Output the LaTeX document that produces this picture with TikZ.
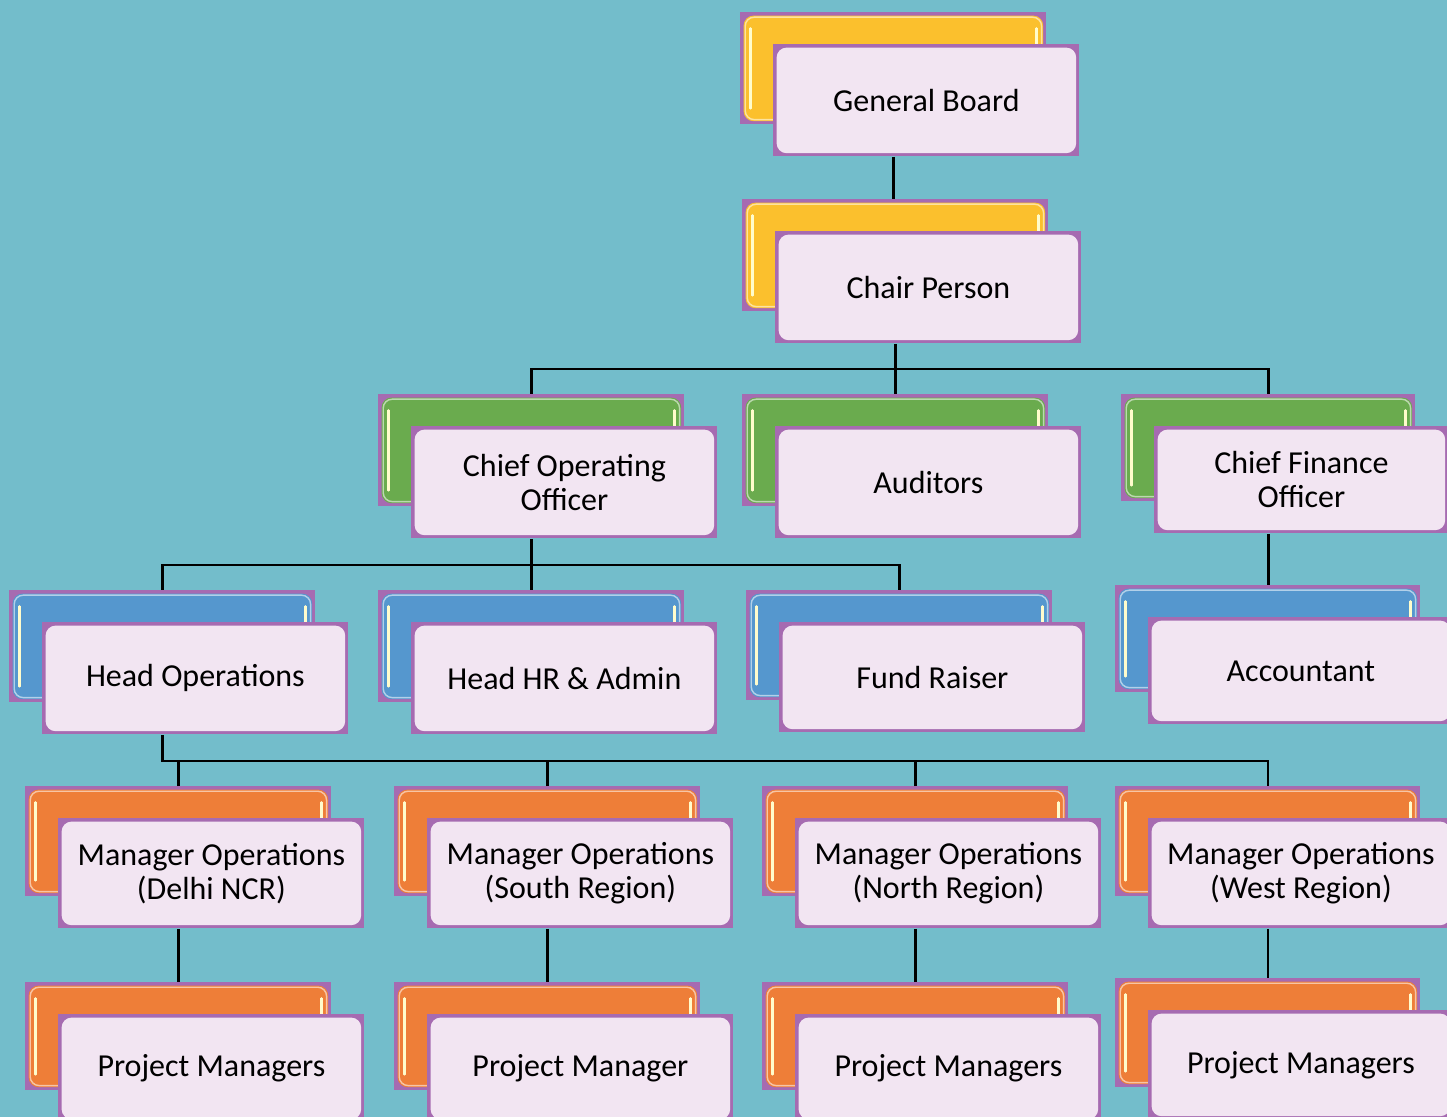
\documentclass[tikz,border=0pt]{standalone}
\usepackage{fontspec}
\setmainfont{Carlito}
\usetikzlibrary{calc}
\definecolor{bgc}{HTML}{73BDCB}
\definecolor{rim}{HTML}{A66BB1}
\definecolor{pinkf}{HTML}{F2E5F2}
\definecolor{yel}{HTML}{FBC02D}
\definecolor{grn}{HTML}{6AAB4E}
\definecolor{blu}{HTML}{5597CE}
\definecolor{org}{HTML}{EE7E38}
\tikzset{
  backtab/.style={rectangle, inner sep=0pt, fill=rim, draw=none,
    path picture={
      \fill[#1, rounded corners=5pt] ([shift={(1.6pt,-1.6pt)}]path picture bounding box.north west) rectangle ([shift={(-1.6pt,1.6pt)}]path picture bounding box.south east);
      \draw[#1!45!white, line width=0.7pt, rounded corners=4.5pt] ([shift={(2.4pt,-2.4pt)}]path picture bounding box.north west) rectangle ([shift={(-2.4pt,2.4pt)}]path picture bounding box.south east);
      \draw[white!80!yellow, line width=1.2pt, line cap=round] ([shift={(5pt,-8pt)}]path picture bounding box.north west) -- ([shift={(5pt,8pt)}]path picture bounding box.south west);
      \draw[white!80!yellow, line width=1.2pt, line cap=round] ([shift={(-5pt,-8pt)}]path picture bounding box.north east) -- ([shift={(-5pt,8pt)}]path picture bounding box.south east);
    }},
  frontbox/.style={rectangle, inner sep=0pt, fill=rim, draw=none,
    path picture={
      \fill[pinkf, rounded corners=5pt] ([shift={(1.6pt,-1.6pt)}]path picture bounding box.north west) rectangle ([shift={(-1.6pt,1.6pt)}]path picture bounding box.south east);
    }},
  boxtext/.style={font=\fontsize{16}{17}\selectfont, align=center, inner sep=0pt},
  conn/.style={draw=black, line width=1.25pt}
}
% name, x, y, w, h, colour, text
\newcommand\obox[7]{%
  \node[backtab=#6, anchor=north west, minimum width={#4*0.5pt}, minimum height={#5*0.5pt}] (#1-b) at (#2,#3) {};
  \node[frontbox, anchor=north west, minimum width={#4*0.5pt}, minimum height={#5*0.5pt}] (#1f) at ({#2+33},{#3+32}) {};
  \node[boxtext] (#1) at (#1f.center) {#7};
}
\begin{document}
\begin{tikzpicture}[x=0.5pt,y=-0.5pt]
\useasboundingbox (0,0) rectangle (1447,1117);
\clip (0,0) rectangle (1447,1117);
\fill[bgc] (0,0) rectangle (1447,1117);

\obox{gb}{740}{12}{306}{112}{yel}{General Board}
\obox{cp}{742}{199}{306}{112}{yel}{Chair Person}
\obox{coo}{378}{394}{306}{112}{grn}{Chief Operating\\Officer}
\obox{aud}{742}{394}{306}{112}{grn}{Auditors}
\obox{cfo}{1121}{394}{294}{107}{grn}{Chief Finance\\Officer}
\obox{ho}{9}{590}{306}{112}{blu}{Head Operations}
\obox{hr}{378}{590}{306}{112}{blu}{Head HR \& Admin}
\obox{fr}{746}{590}{306}{110}{blu}{Fund Raiser}
\obox{acc}{1115}{585}{305}{107}{blu}{Accountant}
\obox{md}{25}{786}{306}{110}{org}{Manager Operations\\(Delhi NCR)}
\obox{ms}{394}{786}{306}{110}{org}{Manager Operations\\(South Region)}
\obox{mn}{762}{786}{306}{110}{org}{Manager Operations\\(North Region)}
\obox{mw}{1115}{786}{305}{110}{org}{Manager Operations\\(West Region)}
\obox{pd}{25}{982}{306}{108}{org}{Project Managers}
\obox{ps}{394}{982}{306}{108}{org}{Project Manager}
\obox{pn}{762}{982}{306}{108}{org}{Project Managers}
\obox{pw}{1115}{978}{305}{109}{org}{Project Managers}

\coordinate (bus1) at (0,369);
\coordinate (bus2) at (0,565);
\coordinate (bus3) at (0,761);

\draw[conn] (gb-b.center |- gbf.south) -- (gb-b.center |- cp-b.north);
\draw[conn] (cp-b.center |- cpf.south) -- (cp-b.center |- bus1);
\draw[conn] (coo-b.north) -- (coo-b.north |- bus1) -- (cfo-b.north |- bus1) -- (cfo-b.north);
\draw[conn] (aud-b.north) -- (aud-b.north |- bus1);
\draw[conn] (coo-b.center |- coof.south) -- (coo-b.center |- bus2);
\draw[conn] (ho-b.north) -- (ho-b.north |- bus2) -- (fr-b.north |- bus2) -- (fr-b.north);
\draw[conn] (hr-b.north) -- (hr-b.north |- bus2);
\draw[conn] (cfo-b.center |- cfof.south) -- (cfo-b.center |- acc-b.north);
\draw[conn] (ho-b.center |- hof.south) -- (ho-b.center |- bus3) -- (mw-b.north |- bus3) -- (mw-b.north);
\draw[conn] (md-b.north) -- (md-b.north |- bus3);
\draw[conn] (ms-b.north) -- (ms-b.north |- bus3);
\draw[conn] (mn-b.north) -- (mn-b.north |- bus3);
\draw[conn] (md-b.center |- mdf.south) -- (pd-b.north);
\draw[conn] (ms-b.center |- msf.south) -- (ps-b.north);
\draw[conn] (mn-b.center |- mnf.south) -- (pn-b.north);
\draw[conn] (mw-b.center |- mwf.south) -- (pw-b.north);
\end{tikzpicture}
\end{document}
